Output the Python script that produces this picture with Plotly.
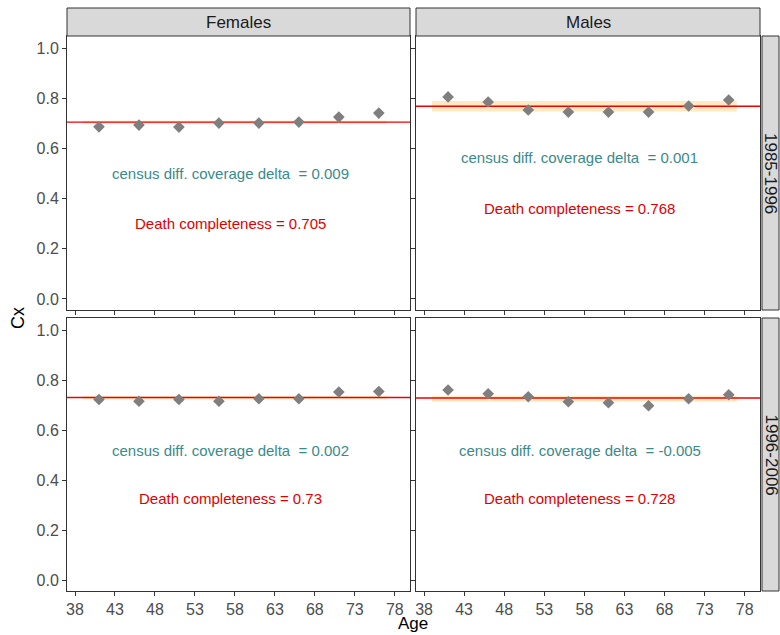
import plotly.graph_objects as go

ages = [41, 46, 51, 56, 61, 66, 71, 76]
cols = ["Females", "Males"]
rows = ["1985-1996", "1996-2006"]
cx = {
    (0, 0): [0.686, 0.693, 0.685, 0.701, 0.701, 0.705, 0.725, 0.741],
    (0, 1): [0.805, 0.785, 0.753, 0.745, 0.745, 0.745, 0.769, 0.793],
    (1, 0): [0.722, 0.715, 0.722, 0.715, 0.725, 0.725, 0.752, 0.754],
    (1, 1): [0.760, 0.745, 0.733, 0.713, 0.709, 0.697, 0.725, 0.741],
}
completeness = {(0, 0): 0.705, (0, 1): 0.768, (1, 0): 0.73, (1, 1): 0.728}
band = {(0, 0): (0.697, 0.710), (0, 1): (0.747, 0.789), (1, 0): (0.723, 0.735), (1, 1): (0.713, 0.737)}
delta = {(0, 0): "0.009", (0, 1): "0.001", (1, 0): "0.002", (1, 1): "-0.005"}
txt_y = {(0, 0): (0.50, 0.30), (0, 1): (0.565, 0.36), (1, 0): (0.52, 0.327), (1, 1): (0.52, 0.327)}
xticks = [38, 43, 48, 53, 58, 63, 68, 73, 78]

W, H = 780, 635
xdom = [(67 / W, 410 / W), (416 / W, 760 / W)]
ydom = [(1 - 310 / H, 1 - 36 / H), (1 - 591 / H, 1 - 318 / H)]

fig = go.Figure()
lay = dict(width=W, height=H, margin=dict(l=0, r=0, t=0, b=0, autoexpand=False), plot_bgcolor="white",
           paper_bgcolor="white", showlegend=False, font=dict(family="Liberation Sans"))
shapes, annos = [], []
for r in range(2):
    for c in range(2):
        k = r * 2 + c + 1
        xa = "x" if k == 1 else f"x{k}"
        ya = "y" if k == 1 else f"y{k}"
        lo, hi = band[(r, c)]
        fig.add_trace(go.Scatter(x=[39, 77, 77, 39], y=[lo, lo, hi, hi], fill="toself",
                                 fillcolor="rgba(255,200,100,0.4)", line=dict(width=0),
                                 mode="lines", xaxis=xa, yaxis=ya, hoverinfo="skip"))
        fig.add_trace(go.Scatter(x=[37, 79.9], y=[completeness[(r, c)]] * 2, mode="lines",
                                 line=dict(color="#ee0000", width=1.3), xaxis=xa, yaxis=ya))
        fig.add_trace(go.Scatter(x=ages, y=cx[(r, c)], mode="markers",
                                 marker=dict(symbol="diamond", size=9, color="#7f7f7f"),
                                 xaxis=xa, yaxis=ya))
        lay["xaxis" if k == 1 else f"xaxis{k}"] = dict(
            domain=xdom[c], anchor=ya, range=[37, 79.9], tickvals=xticks, automargin=False,
            showticklabels=(r == 1), ticks="outside", ticklen=4, tickcolor="#333",
            showgrid=False, zeroline=False, mirror=True, showline=True, linecolor="#333",
            tickfont=dict(size=16, color="#4d4d4d"))
        lay["yaxis" if k == 1 else f"yaxis{k}"] = dict(
            domain=ydom[r], anchor=xa, range=[-0.044, 1.048], automargin=False,
            tickvals=[0, 0.2, 0.4, 0.6, 0.8, 1.0], ticktext=["0.0", "0.2", "0.4", "0.6", "0.8", "1.0"],
            showticklabels=(c == 0), ticks="outside", ticklen=4, tickcolor="#333",
            showgrid=False, zeroline=False, mirror=True, showline=True, linecolor="#333",
            tickfont=dict(size=16, color="#4d4d4d"))
        ty1, ty2 = txt_y[(r, c)]
        xc = 57.4
        annos.append(dict(x=xc, y=ty1, xref=xa, yref=ya, showarrow=False,
                          xanchor="center", yanchor="middle",
                          text=f"census diff. coverage delta  = {delta[(r, c)]}",
                          font=dict(size=15, color="#3a8a8a")))
        annos.append(dict(x=xc, y=ty2, xref=xa, yref=ya, showarrow=False,
                          xanchor="center", yanchor="middle",
                          text=f"Death completeness = {completeness[(r, c)]}",
                          font=dict(size=15, color="#e00000")))

C = dict(xref="paper", yref="paper", showarrow=False, xanchor="center", yanchor="middle")
for c in range(2):
    shapes.append(dict(type="rect", xref="paper", yref="paper", x0=xdom[c][0], x1=xdom[c][1],
                       y0=1 - 36 / H, y1=1 - 8 / H, fillcolor="#d9d9d9", line=dict(color="#333", width=1)))
    annos.append(dict(x=sum(xdom[c]) / 2, y=1 - 22 / H, text=cols[c],
                      font=dict(size=17, color="#1a1a1a"), **C))
for r in range(2):
    shapes.append(dict(type="rect", xref="paper", yref="paper", x0=762 / W, x1=779 / W,
                       y0=ydom[r][0], y1=ydom[r][1], fillcolor="#d9d9d9", line=dict(color="#333", width=1)))
    annos.append(dict(x=771 / W, y=sum(ydom[r]) / 2, text=rows[r], textangle=90,
                      font=dict(size=17, color="#1a1a1a"), **C))
annos.append(dict(x=413 / W, y=1 - 623 / H, text="Age", font=dict(size=17, color="#000"), **C))
annos.append(dict(x=18 / W, y=1 - 318 / H, text="Cx", textangle=-90, font=dict(size=18, color="#000"), **C))
lay["shapes"] = shapes
lay["annotations"] = annos
fig.update_layout(**lay)
fig.write_html("out.html", config={"displayModeBar": False},
               post_script="document.body.style.margin='0';document.body.style.overflow='hidden';")
